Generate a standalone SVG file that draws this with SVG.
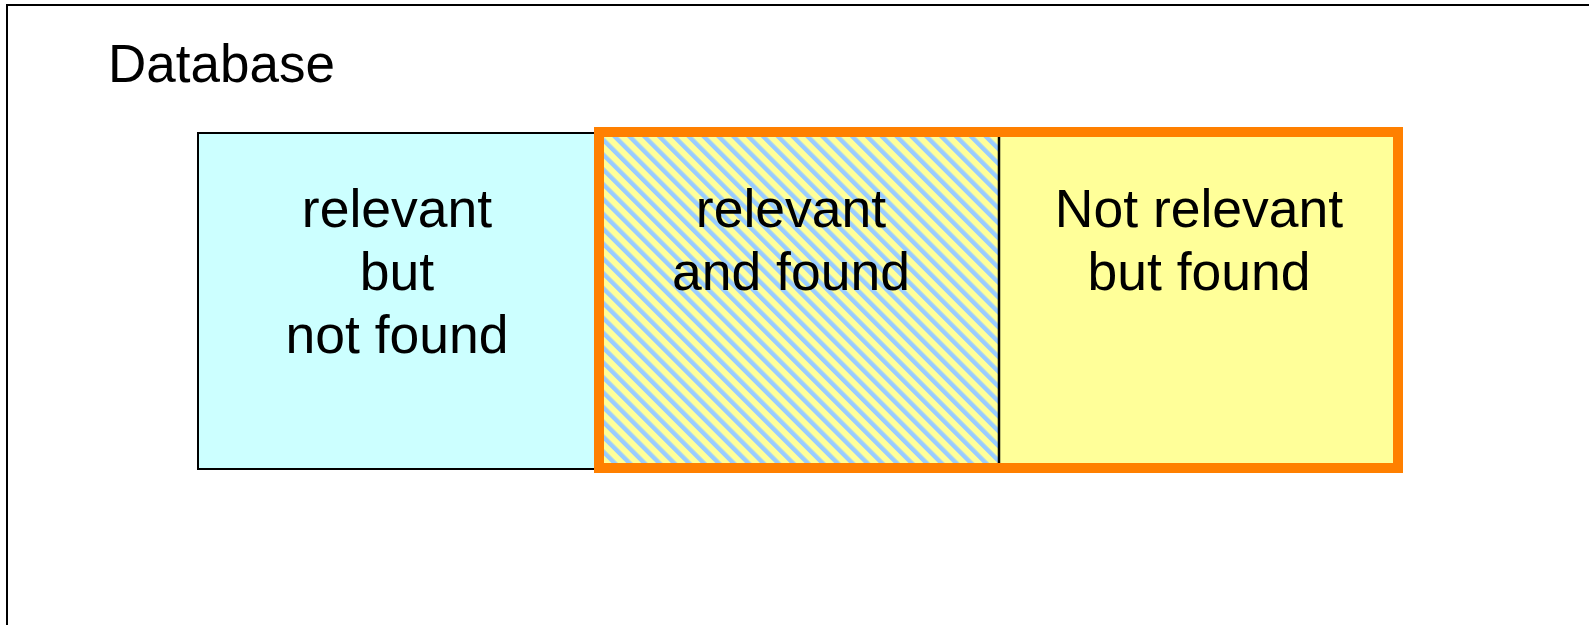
<svg xmlns="http://www.w3.org/2000/svg" width="1589" height="625" viewBox="0 0 1589 625">
  <style>
    .lbl { font-family: "Liberation Sans", Arial, sans-serif; font-size: 53.5px; fill: #000; text-anchor: middle; }
    .title { font-family: "Liberation Sans", Arial, sans-serif; font-size: 53px; fill: #000; }
    .box { stroke: #000; stroke-width: 2; }
  </style>
  <defs>
    <pattern id="hatch" patternUnits="userSpaceOnUse" width="10.5" height="20" patternTransform="rotate(-45)">
      <rect x="0" y="0" width="10.5" height="20" fill="#FFFF99"/>
      <rect x="0" y="0" width="4.4" height="20" fill="#99CCFF"/>
    </pattern>
  </defs>
  <rect width="1589" height="625" fill="#fff"/>
  <g id="database">
    <rect x="7" y="5" width="1700" height="800" fill="none" stroke="#000" stroke-width="2"/>
    <text class="title" x="108" y="82">Database</text>
  </g>
  <g id="relevant-not-found">
    <rect class="box" x="198" y="133" width="401" height="336" fill="#CCFFFF"/>
    <text class="lbl" x="397" y="227">relevant</text>
    <text class="lbl" x="397" y="290">but</text>
    <text class="lbl" x="397" y="353">not found</text>
  </g>
  <g id="relevant-and-found">
    <rect x="599" y="132" width="400" height="336" fill="url(#hatch)"/>
    <text class="lbl" x="791" y="227">relevant</text>
    <text class="lbl" x="791" y="290">and found</text>
  </g>
  <g id="not-relevant-found">
    <rect x="999" y="132" width="399" height="336" fill="#FFFF99"/>
    <text class="lbl" x="1199" y="227">Not relevant</text>
    <text class="lbl" x="1199" y="290">but found</text>
  </g>
  <g id="connectors">
    <line x1="999" y1="132" x2="999" y2="468" stroke="#000" stroke-width="2.5"/>
  </g>
  <g id="found-set">
    <rect x="599" y="132" width="799" height="336" fill="none" stroke="#FF8000" stroke-width="10"/>
  </g>
</svg>
